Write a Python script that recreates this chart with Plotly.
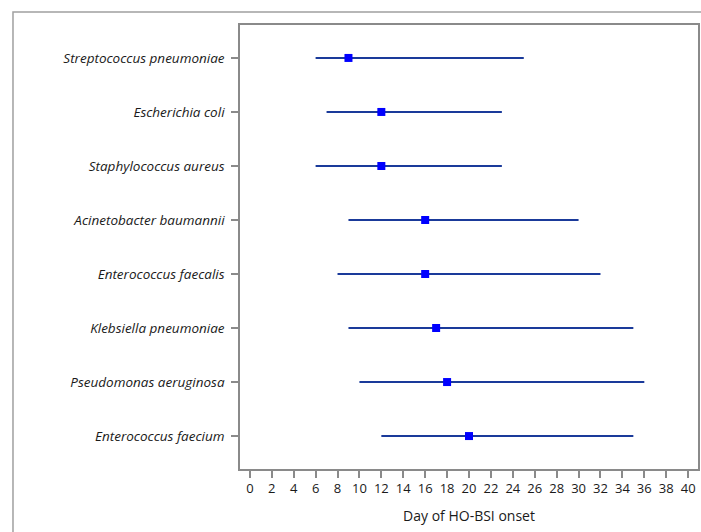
import plotly.graph_objects as go

organisms = [
    "Streptococcus pneumoniae",
    "Escherichia coli",
    "Staphylococcus aureus",
    "Acinetobacter baumannii",
    "Enterococcus faecalis",
    "Klebsiella pneumoniae",
    "Pseudomonas aeruginosa",
    "Enterococcus faecium",
]
median_day = [9, 12, 12, 16, 16, 17, 18, 20]
low_day = [6, 7, 6, 9, 8, 9, 10, 12]
high_day = [25, 23, 23, 30, 32, 35, 36, 35]
x_ticks = list(range(0, 41, 2))

labels = [f"<i>{o}</i>" for o in organisms]
plus = [h - m for h, m in zip(high_day, median_day)]
minus = [m - l for m, l in zip(median_day, low_day)]

fig = go.Figure()
fig.add_trace(go.Scatter(
    x=median_day, y=list(range(len(organisms))),
    mode="markers",
    marker=dict(symbol="square", size=8, color="#0000ff"),
    error_x=dict(type="data", symmetric=False, array=plus, arrayminus=minus,
                 color="#1a3a9a", thickness=2, width=0),
    showlegend=False,
))

W, H = 701, 532
ml, mr, mt, mb = 240, 1, 25, 63
pw, ph = W - ml - mr, H - mt - mb

fig.update_layout(
    width=W, height=H,
    margin=dict(l=ml, r=mr, t=mt, b=mb),
    paper_bgcolor="white", plot_bgcolor="white",
    font=dict(family="Open Sans, sans-serif", size=13, color="#1a1a1a"),
    xaxis=dict(
        range=[-0.9, 40.9], tickvals=x_ticks, ticktext=[str(v) for v in x_ticks],
        showgrid=False, zeroline=False, showline=True, mirror=True,
        linecolor="#8a8a8a", linewidth=1.5,
        ticks="outside", ticklen=7, tickcolor="#8a8a8a", tickwidth=1.5,
        tickfont=dict(size=13),
        title=dict(text="Day of HO-BSI onset", font=dict(size=14), standoff=15),
    ),
    yaxis=dict(
        range=[len(organisms) - 0.39, -0.61],
        tickvals=list(range(len(organisms))), ticktext=labels,
        showgrid=False, zeroline=False, showline=True, mirror=True,
        linecolor="#8a8a8a", linewidth=1.5,
        ticks="outside", ticklen=7, tickcolor="#8a8a8a", tickwidth=1.5,
        tickfont=dict(size=13.5), ticklabelstandoff=4,
    ),
    shapes=[dict(
        type="rect", xref="paper", yref="paper",
        x0=(12 - ml) / pw, x1=1.2,
        y0=-0.5, y1=(H - mb - 12) / ph,
        line=dict(color="#a0a0a0", width=1.5), layer="below",
    )],
)

fig.write_html(
    "out.html",
    config={"displayModeBar": False},
    post_script="document.body.style.margin='0';document.body.style.overflow='hidden';",
)
